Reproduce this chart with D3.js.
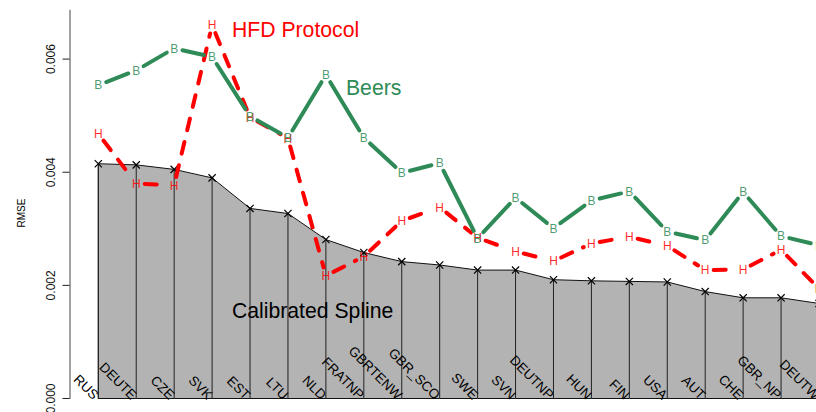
<!DOCTYPE html>
<html>
<head>
<meta charset="utf-8">
<script src="https://cdn.jsdelivr.net/npm/d3@7"></script>
<style>
  html, body { margin: 0; padding: 0; background: #fff; }
  svg { display: block; font-family: "Liberation Sans", Arial, sans-serif; }
</style>
</head>
<body>
<script>
// countries along the x axis
var countries = ["RUS","DEUTE","CZE","SVK","EST","LTU","NLD","FRATNP","GBRTENW","GBR_SCO",
                 "SWE","SVN","DEUTNP","HUN","FIN","USA","AUT","CHE","GBR_NP","DEUTW"];

// RMSE per method
var splineRmse = [0.00415,0.00413,0.00405,0.00390,0.00336,0.00327,0.00281,0.00258,0.00242,0.00236,
                  0.00227,0.00227,0.00210,0.00208,0.00207,0.00206,0.00189,0.00178,0.00178,0.00168];
var beersRmse  = [0.00554,0.00580,0.00619,0.00604,0.00499,0.00461,0.00572,0.00461,0.00399,0.00416,
                  0.00283,0.00355,0.00301,0.00350,0.00366,0.00295,0.00280,0.00365,0.00287,0.00271];
var hfdRmse    = [0.00468,0.00380,0.00377,0.00660,0.00497,0.00460,0.00217,0.00251,0.00314,0.00338,
                  0.00284,0.00260,0.00243,0.00274,0.00286,0.00270,0.00227,0.00228,0.00263,0.00194];

var yTicks = [0, 0.002, 0.004, 0.006];

var width = 816, height = 412;

var svg = d3.select("body").append("svg")
    .attr("width", width)
    .attr("height", height)
    .style("overflow", "hidden");

var x = d3.scaleLinear().domain([0, countries.length - 1]).range([98.3, 819]);
var y = d3.scaleLinear().domain([0, 0.00688]).range([398.5, 9.3]);

// y axis
var yAxis = d3.axisLeft(y)
    .tickValues(yTicks)
    .tickFormat(d3.format(".3f"))
    .tickSize(7)
    .tickSizeOuter(0);

var gy = svg.append("g")
    .attr("transform", "translate(69.5,0)")
    .call(yAxis);
gy.select(".domain").attr("stroke", "#444");
gy.selectAll(".tick line").attr("stroke", "#222");
gy.selectAll(".tick text")
    .attr("transform", function(d) { return "translate(-15," + y(d) + ") rotate(-90)"; })
    .attr("x", 0).attr("y", 0).attr("dy", 0)
    .attr("text-anchor", "middle")
    .attr("font-size", 12)
    .attr("fill", "#111");
gy.selectAll(".tick").attr("transform", "translate(0,0)");
gy.selectAll(".tick line").attr("y1", function(d){ return y(d); }).attr("y2", function(d){ return y(d); });

svg.append("text")
    .attr("transform", "translate(25,213) rotate(-90)")
    .attr("text-anchor", "middle")
    .attr("font-size", 10)
    .text("RMSE");

// calibrated spline area
var area = d3.area()
    .x(function(d, i) { return x(i); })
    .y0(y(0))
    .y1(function(d) { return y(d); });

svg.append("path")
    .datum(splineRmse)
    .attr("d", area)
    .attr("fill", "#b3b3b3")
    .attr("stroke", "#111")
    .attr("stroke-width", 1);

svg.selectAll(".drop")
    .data(splineRmse)
    .enter().append("line")
    .attr("class", "drop")
    .attr("x1", function(d, i) { return x(i); })
    .attr("x2", function(d, i) { return x(i); })
    .attr("y1", y(0))
    .attr("y2", function(d) { return y(d); })
    .attr("stroke", "#222")
    .attr("stroke-width", 1);

svg.selectAll(".cross")
    .data(splineRmse)
    .enter().append("path")
    .attr("class", "cross")
    .attr("d", function(d, i) {
        var cx = x(i), cy = y(d), s = 3.6;
        return "M" + (cx - s) + "," + (cy - s) + "L" + (cx + s) + "," + (cy + s) +
               "M" + (cx - s) + "," + (cy + s) + "L" + (cx + s) + "," + (cy - s);
    })
    .attr("stroke", "#000")
    .attr("stroke-width", 1.2);

// x labels, rotated
svg.selectAll(".xlab")
    .data(countries)
    .enter().append("text")
    .attr("class", "xlab")
    .attr("transform", function(d, i) { return "translate(" + (x(i) - 2) + ",397) rotate(45)"; })
    .attr("text-anchor", "end")
    .attr("dy", "0.35em")
    .attr("font-size", 13.5)
    .attr("fill", "#000")
    .text(function(d) { return d; });

// R style type="b" lines: segments with gaps around the point symbols
function gapSegments(vals, gap) {
    var segs = [];
    for (var i = 0; i < vals.length - 1; i++) {
        var x1 = x(i), y1 = y(vals[i]), x2 = x(i + 1), y2 = y(vals[i + 1]);
        var dx = x2 - x1, dy = y2 - y1, len = Math.sqrt(dx * dx + dy * dy);
        if (len <= 2 * gap) continue;
        var ux = dx / len, uy = dy / len;
        segs.push([x1 + ux * gap, y1 + uy * gap, x2 - ux * gap, y2 - uy * gap]);
    }
    return segs;
}

function drawSeries(vals, cls, color, letter, dash) {
    svg.selectAll("." + cls + "-seg")
        .data(gapSegments(vals, 8.5))
        .enter().append("line")
        .attr("class", cls + "-seg")
        .attr("x1", function(s) { return s[0]; })
        .attr("y1", function(s) { return s[1]; })
        .attr("x2", function(s) { return s[2]; })
        .attr("y2", function(s) { return s[3]; })
        .attr("stroke", color)
        .attr("stroke-width", 4)
        .attr("stroke-linecap", "round")
        .attr("stroke-dasharray", dash);

    svg.selectAll("." + cls + "-pt")
        .data(vals)
        .enter().append("text")
        .attr("class", cls + "-pt")
        .attr("x", function(d, i) { return x(i); })
        .attr("y", function(d) { return y(d); })
        .attr("dy", "0.36em")
        .attr("text-anchor", "middle")
        .attr("font-size", 12)
        .attr("fill", color)
        .attr("fill-opacity", 0.85)
        .text(letter);
}

drawSeries(hfdRmse, "hfd", "#ff0000", "H", "12,12");
drawSeries(beersRmse, "beers", "#2e8b57", "B", null);

// annotations
var notes = [
    {label: "HFD Protocol", i: 3.525, v: 0.00639, color: "#ff0000"},
    {label: "Beers", i: 6.53, v: 0.005365, color: "#2e8b57"},
    {label: "Calibrated Spline", i: 3.525, v: 0.001423, color: "#000"}
];
svg.selectAll(".note")
    .data(notes)
    .enter().append("text")
    .attr("class", "note")
    .attr("x", function(d) { return x(d.i); })
    .attr("y", function(d) { return y(d.v); })
    .attr("font-size", 21.2)
    .attr("fill", function(d) { return d.color; })
    .text(function(d) { return d.label; });
</script>
</body>
</html>
